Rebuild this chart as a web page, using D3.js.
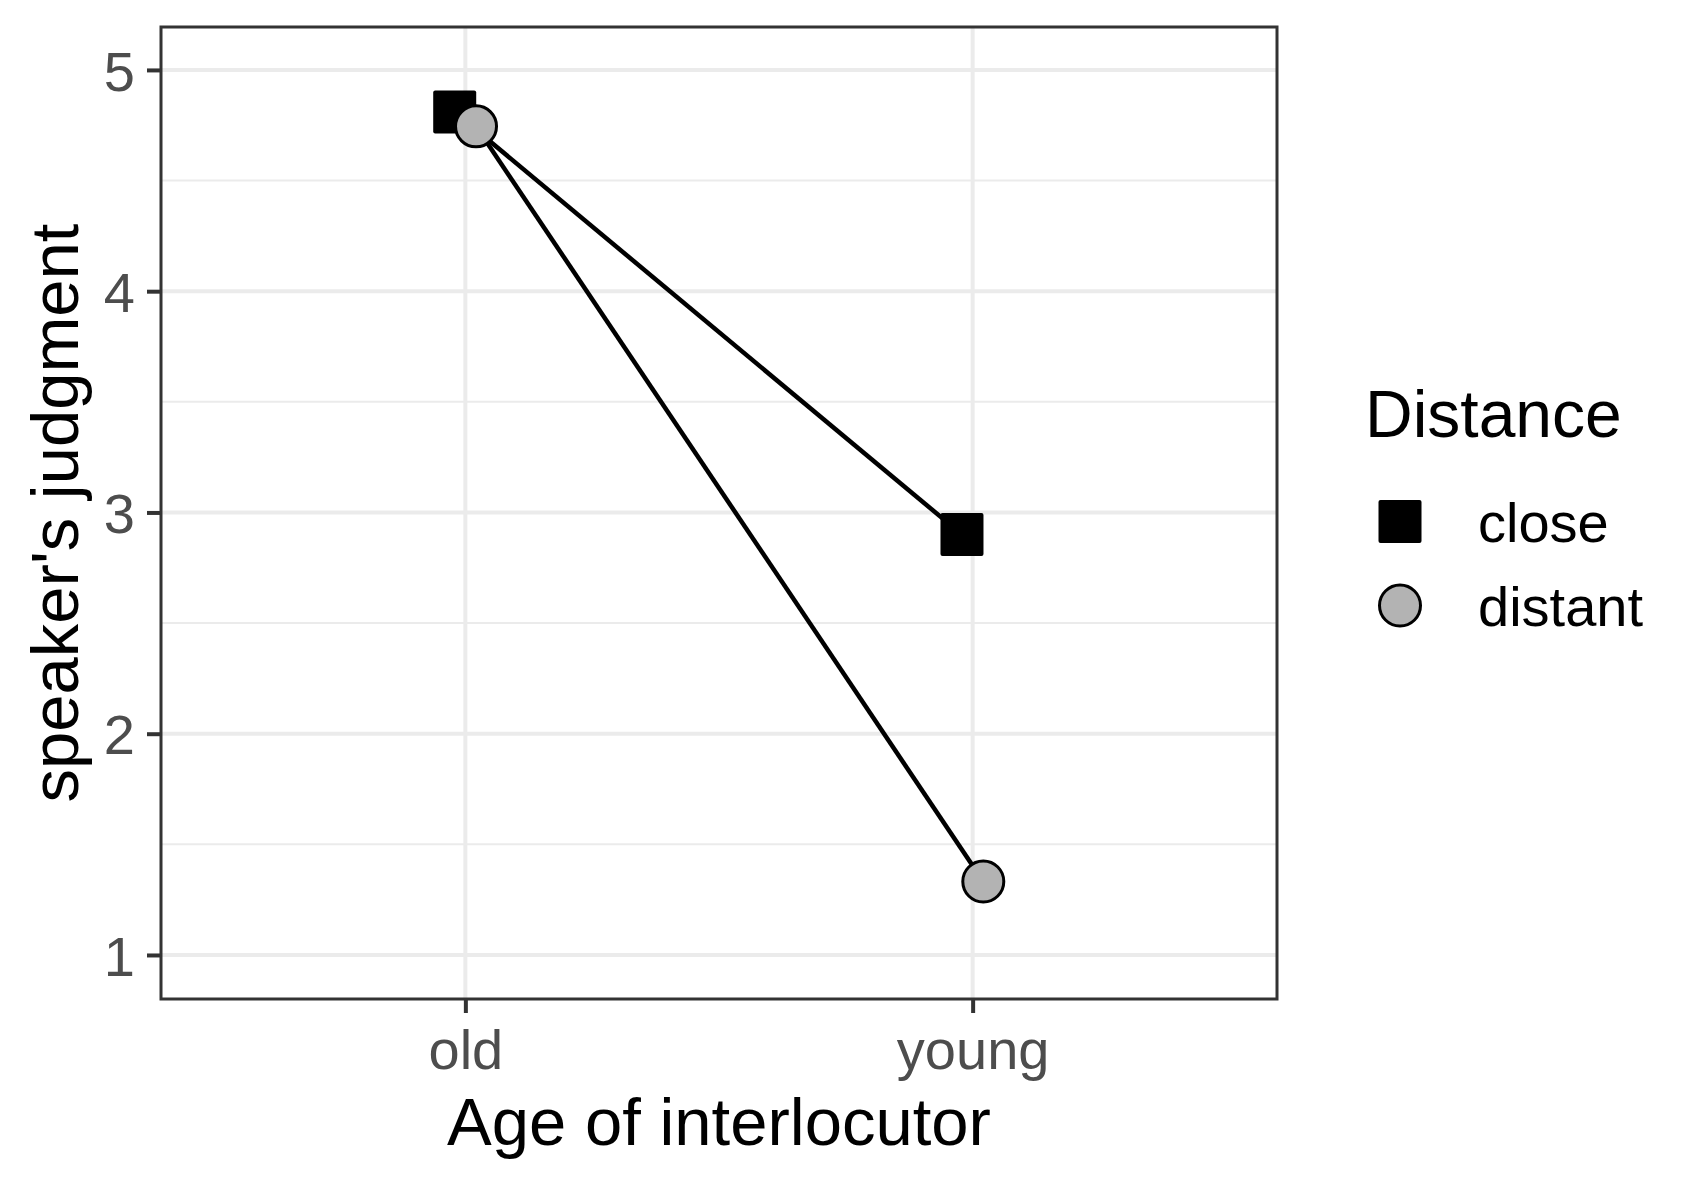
<!DOCTYPE html>
<meta charset="utf-8">
<style>
  body { margin: 0; background: #fff; }
  text { font-family: "Liberation Sans", Arial, sans-serif; }
  .tick text { fill: #4d4d4d; font-size: 56px; }
  .tick line { stroke: #333; stroke-width: 4px; }
  .grid line { stroke: #ebebeb; }
  .series { fill: none; stroke: #000; stroke-width: 4.5px; }
</style>
<svg width="1700" height="1200"></svg>
<script src="https://d3js.org/d3.v7.min.js"></script>
<script>

  var ages = ["old", "young"];
  var distances = ["close", "distant"];
  var closeValues = [4.81, 2.90];
  var distantValues = [4.745, 1.332];
  var yTicks = [1, 2, 3, 4, 5];
  var yMinor = [1.5, 2.5, 3.5, 4.5];

  var svg = d3.select("svg"),
    pLeft = 161, pRight = 1277, pTop = 27, pBottom = 999;

  var x = d3.scalePoint().domain(ages).range([pLeft, pRight]).padding(0.6);
  var y = d3.scaleLinear().domain([0.801, 5.194]).range([pBottom, pTop]);

  // dodge offset for each group
  var dodge = x.step() * 0.021;
  var offset = { close: -dodge, distant: dodge };

  var series = [
    { key: "close", values: closeValues },
    { key: "distant", values: distantValues }
  ];

  // grid
  var grid = svg.append("g").attr("class", "grid");
  grid.selectAll(".minor").data(yMinor).enter().append("line")
    .attr("x1", pLeft).attr("x2", pRight)
    .attr("y1", function (d) { return y(d); }).attr("y2", function (d) { return y(d); })
    .style("stroke-width", 2);
  grid.selectAll(".major").data(yTicks).enter().append("line")
    .attr("x1", pLeft).attr("x2", pRight)
    .attr("y1", function (d) { return y(d); }).attr("y2", function (d) { return y(d); })
    .style("stroke-width", 4);
  grid.selectAll(".vmajor").data(ages).enter().append("line")
    .attr("y1", pTop).attr("y2", pBottom)
    .attr("x1", function (d) { return x(d); }).attr("x2", function (d) { return x(d); })
    .style("stroke-width", 4);

  // lines
  var line = d3.line()
    .x(function (d) { return x(d.age) + offset[d.key]; })
    .y(function (d) { return y(d.v); });

  svg.selectAll(".series").data(series).enter().append("path")
    .attr("class", "series")
    .attr("d", function (s) {
      return line(s.values.map(function (v, i) { return { age: ages[i], v: v, key: s.key }; }));
    });

  // points
  var pts = [];
  series.forEach(function (s) {
    s.values.forEach(function (v, i) { pts.push({ key: s.key, age: ages[i], v: v }); });
  });

  var sq = 43;
  svg.selectAll(".sq").data(pts.filter(function (d) { return d.key == "close"; }))
    .enter().append("rect")
    .attr("x", function (d) { return x(d.age) + offset.close - sq / 2; })
    .attr("y", function (d) { return y(d.v) - sq / 2; })
    .attr("width", sq).attr("height", sq).attr("rx", 2)
    .attr("fill", "#000");

  svg.selectAll(".ci").data(pts.filter(function (d) { return d.key == "distant"; }))
    .enter().append("circle")
    .attr("cx", function (d) { return x(d.age) + offset.distant; })
    .attr("cy", function (d) { return y(d.v); })
    .attr("r", 20.5)
    .attr("fill", "#b3b3b3").attr("stroke", "#000").attr("stroke-width", 3);

  // panel border
  svg.append("rect")
    .attr("x", pLeft).attr("y", pTop)
    .attr("width", pRight - pLeft).attr("height", pBottom - pTop)
    .attr("fill", "none").attr("stroke", "#333").attr("stroke-width", 3);

  // axes
  var yAxis = svg.append("g").attr("transform", "translate(" + pLeft + ",0)")
    .call(d3.axisLeft(y).tickValues(yTicks).tickFormat(d3.format("d")).tickSize(14).tickPadding(12));
  yAxis.select(".domain").remove();
  yAxis.selectAll(".tick text").attr("dy", "0.36em");

  var xAxis = svg.append("g").attr("transform", "translate(0," + pBottom + ")")
    .call(d3.axisBottom(x).tickSize(14).tickPadding(14));
  xAxis.select(".domain").remove();
  xAxis.selectAll(".tick text").attr("dy", "0.75em");

  // axis titles
  svg.append("text")
    .attr("x", (pLeft + pRight) / 2).attr("y", 1145)
    .attr("text-anchor", "middle")
    .style("font-size", "67px").attr("fill", "#000")
    .text("Age of interlocutor");

  svg.append("text")
    .attr("transform", "translate(78," + ((pTop + pBottom) / 2) + ") rotate(-90)")
    .attr("text-anchor", "middle")
    .style("font-size", "67px").attr("fill", "#000")
    .text("speaker's judgment");

  // legend
  var legend = svg.append("g");
  legend.append("text")
    .attr("x", 1365).attr("y", 437)
    .style("font-size", "66px").attr("fill", "#000")
    .text("Distance");

  var keyY = { close: 521.5, distant: 605.5 };
  legend.append("rect")
    .attr("x", 1400 - sq / 2).attr("y", keyY.close - sq / 2)
    .attr("width", sq).attr("height", sq).attr("rx", 2).attr("fill", "#000");
  legend.append("circle")
    .attr("cx", 1400).attr("cy", keyY.distant).attr("r", 20.5)
    .attr("fill", "#b3b3b3").attr("stroke", "#000").attr("stroke-width", 3);

  legend.selectAll(".lab").data(distances).enter().append("text")
    .attr("x", 1478)
    .attr("y", function (d) { return keyY[d] + 20; })
    .style("font-size", "56px").attr("fill", "#000")
    .text(function (d) { return d; });

</script>
